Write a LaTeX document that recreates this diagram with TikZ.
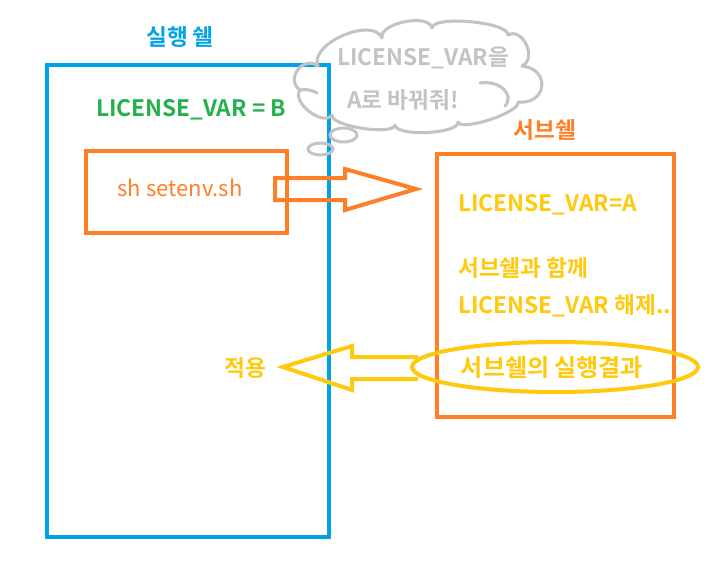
\documentclass[tikz,border=0pt]{standalone}
\usepackage{fontspec}
\setmainfont{Noto Sans CJK KR}[BoldFont={Noto Sans CJK KR Bold}]
\usetikzlibrary{shapes.geometric}
\definecolor{cblue}{RGB}{0,162,232}
\definecolor{corange}{RGB}{255,127,39}
\definecolor{cgreen}{RGB}{34,177,76}
\definecolor{cyellow}{RGB}{255,201,14}
\definecolor{cgray}{RGB}{195,195,195}
\tikzset{
  px/.style={x=0.75pt,y=-0.75pt},
  lbl/.style={font=\fontsize{17}{20}\selectfont\bfseries, inner sep=0pt},
  plain/.style={font=\fontsize{16.5}{20}\selectfont, inner sep=0pt},
  boxline/.style={line width=3pt},
  cloudline/.style={draw=cgray, line width=2.3pt, line cap=round, line join=round},
}
\begin{document}
\begin{tikzpicture}[px]
\useasboundingbox (0,0) rectangle (722,561);
% main shell box
\node[draw=cblue, boxline, minimum width=282*0.75pt, minimum height=472*0.75pt, anchor=north west, inner sep=0pt] (shell) at (45,63) {};
\node[lbl, text=cblue] (shelltitle) at (180,37) {실행 쉘};
\node[lbl, text=cgreen] (varb) at (191,110) {LICENSE\_VAR = B};
\node[draw=corange, boxline, minimum width=201*0.75pt, minimum height=82*0.75pt, anchor=north west, inner sep=0pt] (script) at (84,149) {};
\node[plain, text=corange] (scripttxt) at (180,188) {sh setenv.sh};
% orange hollow arrow
\coordinate (oa) at (416,189);
\draw[corange, line width=3pt, line join=miter] (275,178) -- (345,178) -- (345,169) -- (oa) -- (345,210) -- (345,200) -- (275,200) -- cycle;
% cloud
\coordinate (p0) at (300,90);
\coordinate (p1) at (318,66);
\coordinate (p2) at (382,38);
\coordinate (p3) at (432,28);
\coordinate (p4) at (508,35);
\coordinate (p5) at (522,66);
\coordinate (p6) at (518,102);
\coordinate (p7) at (458,122);
\coordinate (p8) at (395,125);
\coordinate (p9) at (332,115);
\path[cloudline] (p0)
  .. controls (285,79) and (303,55) .. (p1)
  .. controls (308.5,44) and (372.5,16) .. (p2)
  .. controls (379,23) and (429,13) .. (p3)
  .. controls (433,15) and (509,22) .. (p4)
  .. controls (522,27) and (538,58) .. (p5)
  .. controls (551,69) and (547,105) .. (p6)
  .. controls (521,112) and (461,132) .. (p7)
  .. controls (459,134) and (396,137) .. (p8)
  .. controls (393,136) and (330,126) .. (p9)
  .. controls (323,127) and (291,102) .. cycle;
\coordinate (c1) at (480,83);
\coordinate (c2) at (505,106);
\draw[cloudline] (c1) .. controls (500,80) and (515,95) .. (c2);
\coordinate (h1) at (317,93);
\draw[cloudline] (p0) .. controls (306,89) and (312,90) .. (h1);
\node[draw=cgray, line width=2.2pt, ellipse, minimum width=27*0.75pt, minimum height=14*0.75pt, inner sep=0pt] (bub1) at (343.5,135) {};
\node[draw=cgray, line width=2.2pt, ellipse, minimum width=25*0.75pt, minimum height=12*0.75pt, inner sep=0pt] (bub2) at (320.5,149) {};
\node[lbl, text=cgray] (cl1) at (423,58) {LICENSE\_VAR을};
\node[lbl, text=cgray, anchor=west] (cl2) at (347,100) {A로 바꿔줘!};
% subshell
\node[lbl, text=corange] (subtitle) at (545,130) {서브쉘};
\node[draw=corange, boxline, minimum width=237*0.75pt, minimum height=263*0.75pt, anchor=north west, inner sep=0pt] (sub) at (435,152) {};
\node[lbl, text=cyellow, anchor=west] (vara) at (458,205) {LICENSE\_VAR=A};
\node[lbl, text=cyellow, anchor=west] (with) at (458,268) {서브쉘과 함께};
\node[lbl, text=cyellow, anchor=west] (unset) at (458,306) {LICENSE\_VAR 해제..};
\node[draw=cyellow, line width=3pt, ellipse, minimum width=286*0.75pt, minimum height=50*0.75pt, inner sep=0pt] (res) at (555,367) {};
\node[lbl, text=cyellow, font=\fontsize{18}{20}\selectfont\bfseries] (restxt) at (552,368) {서브쉘의 실행결과};
% yellow hollow arrow
\coordinate (ya) at (283,367);
\draw[cyellow, line width=3pt, line join=miter] (418,357) -- (352,357) -- (352,346) -- (ya) -- (352,390) -- (352,379) -- (418,379);
\node[lbl, text=cyellow] (apply) at (245,368) {적용};
\end{tikzpicture}
\end{document}
